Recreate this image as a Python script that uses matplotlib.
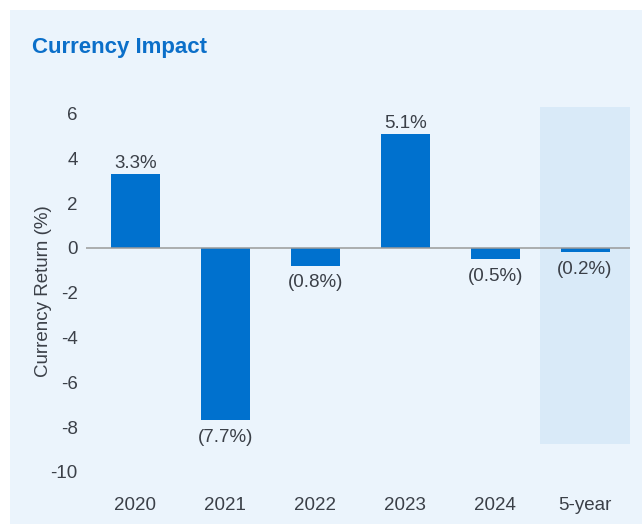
import matplotlib
matplotlib.use('Agg')
from matplotlib import pyplot as plt
from matplotlib.patches import Rectangle
import numpy as np

# data
categories = ['2020', '2021', '2022', '2023', '2024', '5-year']
returns = [3.3, -7.7, -0.8, 5.1, -0.5, -0.2]
yticks = [6, 4, 2, 0, -2, -4, -6, -8, -10]

plt.rcParams['font.family'] = ['Liberation Sans', 'DejaVu Sans']

blue = '#0071ce'
panel = '#ebf4fc'
shade = '#d9eaf8'
txt = '#3b4048'
fs = 13.5

fig = plt.figure(figsize=(6.42, 5.24), dpi=100)
fig.patch.set_facecolor('white')
fig.patches.append(Rectangle((10 / 642, 0), 632 / 642, 514 / 524,
                             transform=fig.transFigure, facecolor=panel,
                             edgecolor='none', zorder=-10))

ax = fig.add_axes([86 / 642, 40.8 / 524, 544 / 642, 380.8 / 524])
ax.set_facecolor('none')

x = np.arange(len(categories))

# shaded 5-year column
ax.bar(x[-1], 6.3 + 8.75, bottom=-8.75, width=1.0, color=shade, zorder=0)

ax.bar(x, returns, width=0.545, color=blue, zorder=2)
ax.axhline(0, color='#9a9a9a', linewidth=1.1, zorder=3)

for xi, v in zip(x, returns):
    if v >= 0:
        ax.annotate(f'{v:.1f}%', (xi, v), xytext=(0, 1.5), textcoords='offset points',
                    ha='center', va='bottom', fontsize=fs, color=txt)
    else:
        ax.annotate(f'({abs(v):.1f}%)', (xi, v), xytext=(0, -6), textcoords='offset points',
                    ha='center', va='top', fontsize=fs, color=txt)

ax.set_xlim(-0.55, 5.5)
ax.set_ylim(-10.5, 6.5)
ax.set_yticks(yticks)
ax.set_yticklabels([str(t) for t in yticks])
ax.set_xticks(x)
ax.set_xticklabels(categories)
ax.tick_params(axis='both', length=0, labelsize=fs, labelcolor=txt)
ax.tick_params(axis='x', pad=10)
ax.tick_params(axis='y', pad=6)
for s in ax.spines.values():
    s.set_visible(False)

ax.set_ylabel('Currency Return (%)', fontsize=fs, color=txt, va='center')
ax.yaxis.set_label_coords(-0.079, 0.505)

fig.text(32 / 642, 1 - 53 / 524, 'Currency Impact', fontsize=16, fontweight='bold',
         color='#0b6fc9', ha='left', va='baseline')

fig.savefig('out.png', dpi=100)
